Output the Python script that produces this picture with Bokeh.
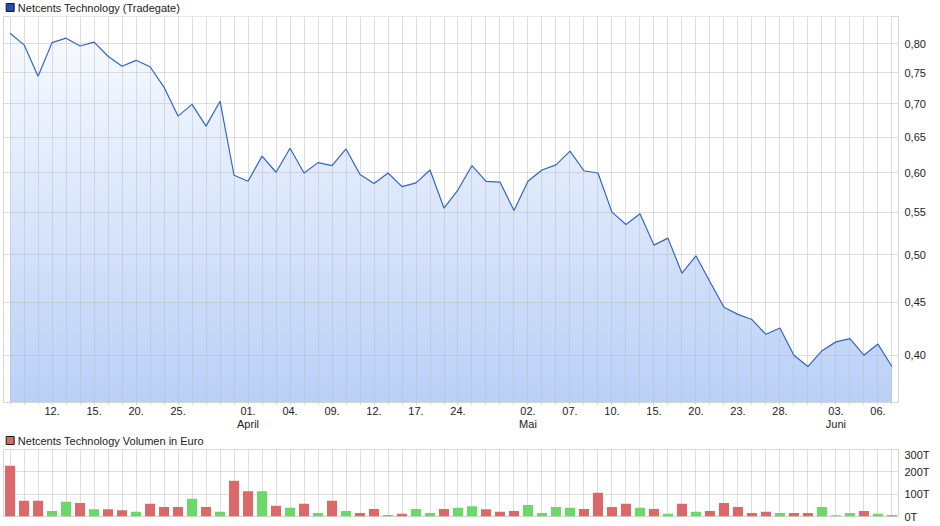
import numpy as np
from bokeh.plotting import figure
from bokeh.layouts import column
from bokeh.models import Range1d, FixedTicker, CustomJSTickFormatter, ColumnDataSource
from bokeh.core.properties import value
from bokeh.embed import file_html
from bokeh.resources import INLINE

# ---- data (trading days 2019-03-07 .. 2019-06-07, Tradegate) ----
day_index = list(range(64))
price = [0.819, 0.798, 0.744, 0.802, 0.810, 0.796, 0.803, 0.778, 0.761, 0.771,
         0.760, 0.726, 0.681, 0.699, 0.666, 0.704, 0.597, 0.589, 0.623, 0.601,
         0.634, 0.600, 0.614, 0.610, 0.633, 0.598, 0.586, 0.600, 0.582, 0.587,
         0.604, 0.555, 0.578, 0.610, 0.589, 0.588, 0.552, 0.589, 0.604, 0.611,
         0.630, 0.603, 0.600, 0.550, 0.535, 0.548, 0.511, 0.519, 0.480, 0.499,
         0.471, 0.445, 0.438, 0.433, 0.419, 0.425, 0.400, 0.390, 0.404, 0.412,
         0.415, 0.400, 0.410, 0.390]
volume = [227, 70, 70, 25, 66, 61, 33, 33, 28, 21,
          57, 43, 43, 79, 43, 21, 160, 113, 113, 48,
          39, 57, 16, 70, 25, 16, 34, 7, 12, 34,
          16, 34, 39, 46, 33, 21, 25, 52, 16, 43,
          39, 34, 106, 43, 57, 39, 34, 12, 57, 21,
          25, 61, 43, 16, 21, 16, 16, 16, 43, 6,
          16, 25, 12, 6]  # thousand euro
direction = ["down", "down", "down", "up", "up", "down", "up", "down", "down", "up",
             "down", "down", "down", "up", "down", "up", "down", "down", "up", "down",
             "up", "down", "up", "down", "up", "down", "down", "up", "down", "up",
             "up", "down", "up", "up", "down", "down", "down", "up", "up", "up",
             "up", "down", "down", "down", "down", "up", "down", "up", "down", "up",
             "down", "down", "down", "down", "down", "up", "down", "down", "up", "up",
             "up", "down", "up", "down"]
tick_labels = {3: "12.", 6: "15.", 9: "20.", 12: "25.", 17: "01.\nApril", 20: "04.",
               23: "09.", 26: "12.", 29: "17.", 32: "24.", 37: "02.\nMai", 40: "07.",
               43: "10.", 46: "15.", 49: "20.", 52: "23.", 55: "28.", 59: "03.\nJuni",
               62: "06."}
price_ticks = [0.40, 0.45, 0.50, 0.55, 0.60, 0.65, 0.70, 0.75, 0.80]
volume_ticks = [0, 100, 200, 300]
legend_price = "Netcents Technology (Tradegate)"
legend_volume = "Netcents Technology Volumen in Euro"

FONT = "Liberation Sans"
TXT = "#222222"
GRID = "#bdbdbd"
W = 937
RB = 39

x_range = Range1d(-0.47, 63.47)
y_lo, y_hi = 0.36, 0.85


def header(label, swatch, height, yc):
    h = figure(width=W, height=height, x_range=Range1d(0, W), y_range=Range1d(height, 0),
               output_backend="svg", toolbar_location=None, min_border=0)
    h.axis.visible = False
    h.grid.visible = False
    h.outline_line_color = None
    src = ColumnDataSource(dict(x=[7], y=[yc], tx=[15], t=[label]))
    h.scatter("x", "y", source=src, marker="square", size=8, fill_color=swatch,
              line_color="#1a1a1a", line_width=1)
    h.text("tx", "y", text="t", source=src, text_font=value(FONT), text_font_size="11px",
           text_color=TXT, text_baseline="middle", text_align="left")
    return h


# ---------------- main price chart ----------------
p = figure(width=W, height=418, x_range=x_range, y_range=Range1d(y_lo, y_hi),
           y_axis_type="log", y_axis_location="right", output_backend="svg",
           toolbar_location=None, min_border_left=3, min_border_right=RB,
           min_border_top=2, min_border_bottom=0)
p.outline_line_color = "#d6d6d6"

# vertical gradient under the line: overlapping bands (tallest first, no seams)
NB = 80
edges = np.geomspace(y_lo, y_hi, NB + 1)
top_c = np.array([250, 252, 255])
bot_c = np.array([186, 208, 247])
tops, cols = [], []
for k in range(NB - 1, -1, -1):
    t = (k + 0.5) / NB
    c = bot_c + (top_c - bot_c) * t
    tops.append(edges[k + 1])
    cols.append("#%02x%02x%02x" % tuple(int(round(v)) for v in c))
p.quad(left=day_index[0], right=day_index[-1], bottom=y_lo, top=tops,
       fill_color=cols, line_color=None, level="image")
p.varea(x=day_index, y1=price, y2=y_hi, fill_color="white", level="image")
p.line(day_index, price, line_color="#3165c8", line_width=1.2)

ya = p.yaxis[0]
ya.ticker = FixedTicker(ticks=price_ticks)
ya.formatter = CustomJSTickFormatter(code="return tick.toFixed(2).replace('.', ',');")
ya.major_tick_line_color = None
ya.minor_tick_line_color = None
ya.axis_line_color = "#d6d6d6"
ya.major_label_text_font = FONT
ya.major_label_text_font_size = "11px"
ya.major_label_text_color = TXT
ya.major_label_standoff = 0

xa = p.xaxis[0]
xa.ticker = FixedTicker(ticks=list(tick_labels.keys()), minor_ticks=day_index)
xa.major_label_overrides = tick_labels
xa.axis_line_color = "#d6d6d6"
xa.major_tick_line_color = "#d0d0d0"
xa.minor_tick_line_color = "#d0d0d0"
xa.major_tick_out = 2
xa.major_tick_in = 0
xa.minor_tick_out = 2
xa.minor_tick_in = 0
xa.major_label_text_font = FONT
xa.major_label_text_font_size = "11px"
xa.major_label_text_color = TXT
xa.major_label_text_line_height = 1.1
xa.major_label_standoff = 0

p.xgrid.ticker = FixedTicker(ticks=day_index)
p.xgrid.grid_line_color = GRID
p.xgrid.grid_line_alpha = 0.5
p.ygrid.grid_line_color = GRID
p.ygrid.grid_line_alpha = 0.5

# ---------------- volume chart ----------------
vol_src = ColumnDataSource(dict(
    x=day_index, v=volume,
    c=["#dc6969" if d == "down" else "#6ad96a" for d in direction]))

q = figure(width=W, height=74, x_range=x_range, y_range=Range1d(0, 300),
           y_axis_location="right", output_backend="svg", toolbar_location=None,
           min_border_left=3, min_border_right=RB, min_border_top=1, min_border_bottom=6)
q.outline_line_color = "#d6d6d6"
q.vbar(x="x", top="v", width=0.72, bottom=0, fill_color="c", line_color=None, source=vol_src)

qa = q.yaxis[0]
qa.ticker = FixedTicker(ticks=volume_ticks)
qa.formatter = CustomJSTickFormatter(code="return tick.toFixed(0) + 'T';")
qa.major_tick_line_color = None
qa.minor_tick_line_color = None
qa.axis_line_color = "#d6d6d6"
qa.major_label_text_font = FONT
qa.major_label_text_font_size = "11px"
qa.major_label_text_color = TXT
qa.major_label_standoff = 0

q.xaxis.visible = False
q.xgrid.ticker = FixedTicker(ticks=day_index)
q.xgrid.grid_line_color = GRID
q.xgrid.grid_line_alpha = 0.5
q.ygrid.grid_line_color = GRID
q.ygrid.grid_line_alpha = 0.5

layout = column(header(legend_price, "#1f4fb5", 14, 7), p,
                header(legend_volume, "#dc6969", 16, 8), q, spacing=0)
open("out.html", "w").write(file_html(layout, INLINE))
